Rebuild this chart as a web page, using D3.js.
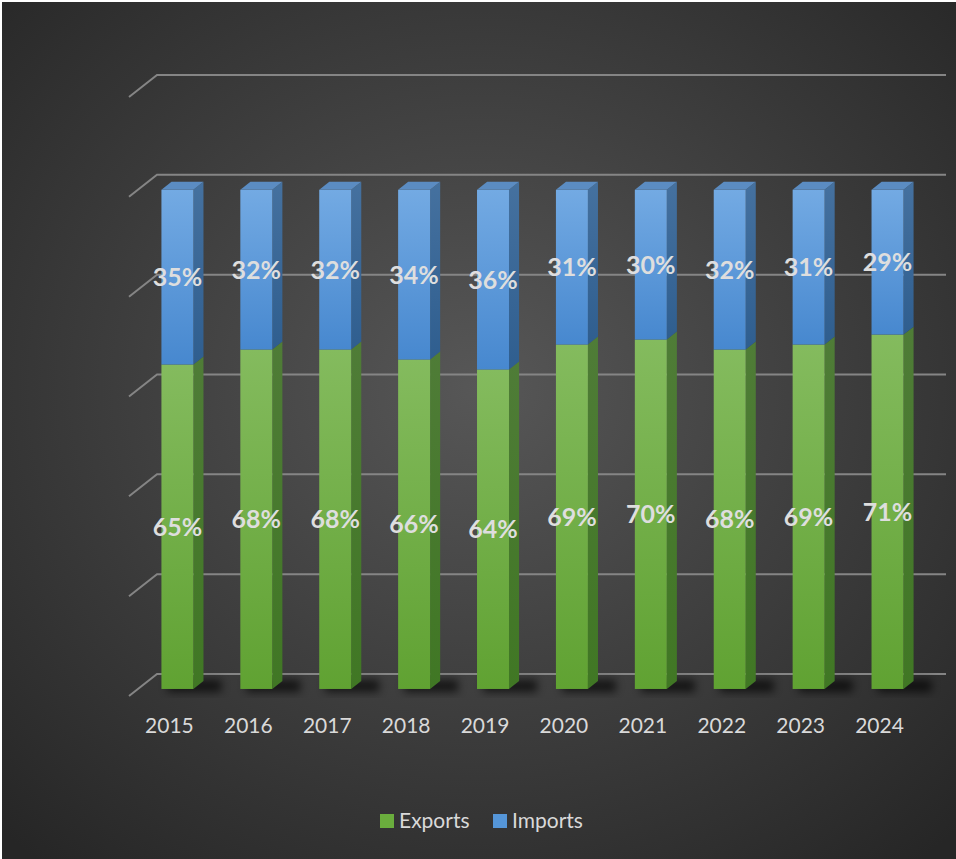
<!DOCTYPE html>
<html>
<head>
<meta charset="utf-8">
<script src="https://cdn.jsdelivr.net/npm/d3@7"></script>
<style>
  body { margin: 0; background: #fff; }
  svg { display: block; }
</style>
</head>
<body>
<svg width="956" height="859"></svg>
<script>
const years = ["2015", "2016", "2017", "2018", "2019", "2020", "2021", "2022", "2023", "2024"]
const exportsPct = [65, 68, 68, 66, 64, 69, 70, 68, 69, 71]
const importsPct = [35, 32, 32, 34, 36, 31, 30, 32, 31, 29]
const gridTicks = [0, 20, 40, 60, 80, 100, 120]
const seriesNames = ["Exports", "Imports"]

const svg = d3.select("svg")
const defs = svg.append("defs")

// background
const bg = defs.append("radialGradient").attr("id", "bg")
    .attr("cx", "50%").attr("cy", "45%").attr("r", "72%")
bg.append("stop").attr("offset", "0%").attr("stop-color", "#575757")
bg.append("stop").attr("offset", "100%").attr("stop-color", "#262626")

function vGrad(id, top, bottom) {
    const g = defs.append("linearGradient").attr("id", id)
        .attr("x1", 0).attr("y1", 0).attr("x2", 0).attr("y2", 1)
    g.append("stop").attr("offset", "0%").attr("stop-color", top)
    g.append("stop").attr("offset", "100%").attr("stop-color", bottom)
}
vGrad("gFront", "#84bb5e", "#60a232")
vGrad("gSide", "#4f7c37", "#407724")
vGrad("bFront", "#73aae3", "#4788cf")
vGrad("bSide", "#45719f", "#2f5e8f")

defs.append("filter").attr("id", "blur")
    .attr("x", "-50%").attr("y", "-50%").attr("width", "200%").attr("height", "200%")
    .append("feGaussianBlur").attr("stdDeviation", 4)

svg.append("rect")
    .attr("x", 2).attr("y", 2)
    .attr("width", 954).attr("height", 857)
    .style("fill", "url(#bg)")

// scales (front edge of floor)
const x = d3.scaleBand().domain(years).range([129, 918])
const y = d3.scaleLinear().domain([0, 120]).range([696, 97])

const depth = [28, -22]
const front = [depth[0] * 0.32, depth[1] * 0.32]
const thick = [depth[0] * 0.36, depth[1] * 0.36]
const barW = x.bandwidth() * 0.405

// gridlines on back wall + left wall stub
svg.append("g")
    .selectAll("path.grid")
    .data(gridTicks)
    .enter()
    .append("path")
    .attr("class", "grid")
    .attr("d", d => `M${x.range()[0]},${y(d)} L${x.range()[0] + depth[0]},${y(d) + depth[1]} L${x.range()[1] + depth[0]},${y(d) + depth[1]}`)
    .style("fill", "none")
    .style("stroke", "#858585")
    .style("stroke-width", 2)

const bars = years.map((yr, i) => ({
    year: yr,
    exp: exportsPct[i],
    imp: importsPct[i],
    x0: x(yr) + (x.bandwidth() - barW) / 2 + front[0]
}))
const fy = v => y(v) + front[1]

// shadows
svg.append("g")
    .selectAll("rect")
    .data(bars)
    .enter()
    .append("rect")
    .attr("x", d => d.x0 + 6)
    .attr("y", fy(0) - 9)
    .attr("width", barW + 22)
    .attr("height", 12)
    .style("fill", "#000")
    .style("opacity", 0.65)
    .attr("filter", "url(#blur)")

function side(x1, yTop, yBot) {
    return `M${x1},${yBot} L${x1 + thick[0]},${yBot + thick[1]} L${x1 + thick[0]},${yTop + thick[1]} L${x1},${yTop} Z`
}

const bar = svg.append("g")
    .selectAll("g.bar")
    .data(bars)
    .enter()
    .append("g")
    .attr("class", "bar")

bar.append("path")
    .attr("d", d => side(d.x0 + barW, fy(d.exp), fy(0)))
    .style("fill", "url(#gSide)")
bar.append("rect")
    .attr("x", d => d.x0)
    .attr("y", d => fy(d.exp))
    .attr("width", barW)
    .attr("height", d => fy(0) - fy(d.exp))
    .style("fill", "url(#gFront)")
bar.append("path")
    .attr("d", d => side(d.x0 + barW, fy(d.exp + d.imp), fy(d.exp)))
    .style("fill", "url(#bSide)")
bar.append("rect")
    .attr("x", d => d.x0)
    .attr("y", d => fy(d.exp + d.imp))
    .attr("width", barW)
    .attr("height", d => fy(d.exp) - fy(d.exp + d.imp))
    .style("fill", "url(#bFront)")
bar.append("path")
    .attr("d", d => {
        const t = fy(d.exp + d.imp)
        return `M${d.x0},${t} L${d.x0 + thick[0]},${t + thick[1]} L${d.x0 + barW + thick[0]},${t + thick[1]} L${d.x0 + barW},${t} Z`
    })
    .style("fill", "#5b8cc2")

// data labels
bar.append("text")
    .attr("x", d => d.x0 + barW / 2)
    .attr("y", d => (fy(0) + fy(d.exp)) / 2)
    .text(d => d.exp + "%")
bar.append("text")
    .attr("x", d => d.x0 + barW / 2)
    .attr("y", d => (fy(d.exp) + fy(d.exp + d.imp)) / 2)
    .text(d => d.imp + "%")
bar.selectAll("text")
    .attr("dy", "0.36em")
    .style("text-anchor", "middle")
    .style("font-family", "Lato, 'Open Sans', sans-serif")
    .style("font-weight", "bold")
    .style("font-size", "25px")
    .style("fill", "#dedede")

// category labels
svg.append("g")
    .selectAll("text")
    .data(years)
    .enter()
    .append("text")
    .attr("x", d => x(d) + x.bandwidth() / 2 + 1)
    .attr("y", 733)
    .style("text-anchor", "middle")
    .style("font-family", "Lato, 'Open Sans', sans-serif")
    .style("font-size", "21px")
    .style("fill", "#d9d9d9")
    .text(d => d)

// legend
const legendColor = d3.scaleOrdinal().domain(seriesNames).range(["#6aad3d", "#5596d9"])
const legend = svg.append("g")
    .selectAll("g")
    .data(seriesNames)
    .enter()
    .append("g")
    .attr("transform", (d, i) => `translate(${i == 0 ? 380 : 493}, 814)`)
legend.append("rect")
    .attr("width", 14).attr("height", 14)
    .style("fill", d => legendColor(d))
legend.append("text")
    .attr("x", 19)
    .attr("y", 14)
    .style("font-family", "Lato, 'Open Sans', sans-serif")
    .style("font-size", "21px")
    .style("fill", "#d9d9d9")
    .text(d => d)
</script>
</body>
</html>
